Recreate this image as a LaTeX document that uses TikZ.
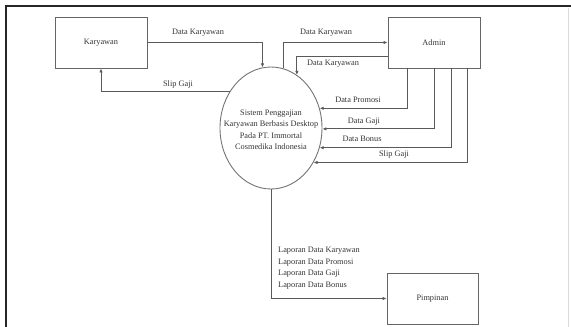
\documentclass[tikz,border=0pt]{standalone}
\usepackage{fontspec}
\setmainfont{Liberation Serif}
\usetikzlibrary{arrows.meta,shapes.geometric}
\begin{document}
\begin{tikzpicture}[x=1pt,y=-1pt,
  every node/.style={font=\fontsize{8.3}{11.5}\selectfont, text=black!80},
  entity/.style={draw=black!60, line width=0.9pt, minimum width=92pt, minimum height=51pt, inner sep=0pt},
  proc/.style={draw=black!55, line width=0.9pt, ellipse, minimum width=102pt, minimum height=122pt, inner sep=0pt},
  flow/.style={draw=black!65, line width=0.9pt, -{Latex[length=4pt,width=3.5pt]}},
  lbl/.style={inner sep=0pt}]
\useasboundingbox (0,0) rectangle (571,327);
% frame
\draw[line width=1.8pt, black!85] (6,327) -- (6,6) -- (571,6);
\draw[line width=0.6pt, black!15] (568,8) -- (568,327);
% nodes
\node[entity] (kar) at (101,42.5) {Karyawan};
\node[entity] (adm) at (434,42.5) {Admin};
\node[entity, minimum width=91pt] (pim) at (432.5,298.5) {Pimpinan};
\node[proc] (e) at (271,128) {};
\node[lbl, align=center] (et) at (271,130) {Sistem Penggajian\\Karyawan Berbasis Desktop\\Pada PT. Immortal\\Cosmedika Indonesia};
% flows
\draw[flow] (kar.east) -| (e.98.5);
\draw[flow] (e.138.85) -| (kar.south);
\draw[flow] (e.78.56) |- (adm.west);
\draw[flow] ([yshift=-13.5pt]adm.west) -| (e.64.8);
\draw[flow] ([xshift=-27pt]adm.south) |- (e.22.5);
\draw[flow] (adm.south) |- (e.-1.1);
\draw[flow] ([xshift=17pt]adm.south) |- (e.-22.5);
\draw[flow] ([xshift=33pt]adm.south) |- (e.-39.9);
\draw[flow] (e.south) |- (pim.west);
% labels
\node[lbl] (l1) at (198,33) {Data Karyawan};
\node[lbl] (l2) at (178,85) {Slip Gaji};
\node[lbl] (l3) at (326,33) {Data Karyawan};
\node[lbl] (l4) at (333,64) {Data Karyawan};
\node[lbl] (l5) at (358,100) {Data Promosi};
\node[lbl] (l6) at (364,122) {Data Gaji};
\node[lbl] (l7) at (362,139) {Data Bonus};
\node[lbl] (l8) at (394,155) {Slip Gaji};
\node[lbl, align=left, anchor=west] (l9) at (278,268) {Laporan Data Karyawan\\Laporan Data Promosi\\Laporan Data Gaji\\Laporan Data Bonus};
\end{tikzpicture}
\end{document}
